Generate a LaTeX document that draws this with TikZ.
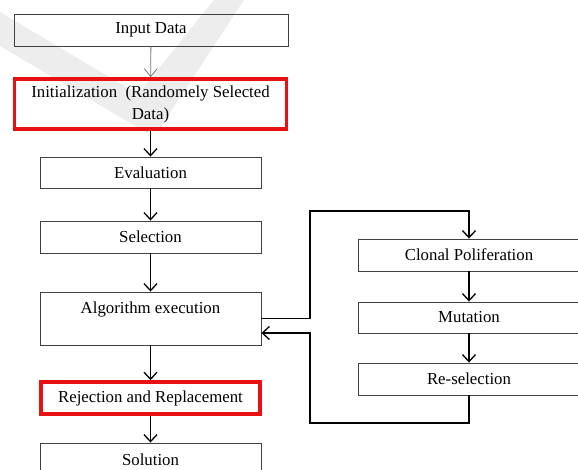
\documentclass[tikz,border=0pt]{standalone}
\usepackage{fontspec}
\setmainfont{Liberation Serif}
\usetikzlibrary{arrows.meta,positioning}
\tikzset{
  box/.style={draw=black!75, line width=0.9pt, rectangle, inner sep=0pt, align=center,
    font=\fontsize{16.8}{22}\selectfont},
  redbox/.style={box, draw={rgb,255:red,232;green,16;blue,16}, line width=3.6pt},
  arr/.style={draw=black, line width=1.3pt, -{Straight Barb[length=7pt,width=13pt,line width=1.3pt]}},
  thinarr/.style={draw=black!55, line width=0.8pt, -{Straight Barb[length=8pt,width=13pt,line width=0.8pt]}},
  loopline/.style={draw=black, line width=1.3pt},
}
\begin{document}
\begin{tikzpicture}[x=1pt,y=-1pt]
\useasboundingbox (0,0) rectangle (578,470);
\clip (0,0) rectangle (578,470);
% watermark
\fill[black!7] (0,12) -- (138,94) -- (214,0) -- (244,0) -- (160,128) -- (147,133) -- (0,46) -- cycle;
% left column
\node[box, minimum width=274pt, minimum height=32pt] (input) at (151,30) {Input Data};
\node[redbox, minimum width=272pt, minimum height=50pt] (init) at (150.5,104) {Initialization \ (Randomely Selected\\Data)};
\node[box, minimum width=221pt, minimum height=31pt] (eval) at (150.5,172.5) {Evaluation};
\node[box, minimum width=221pt, minimum height=32pt] (sel) at (150.5,237) {Selection};
\node[box, minimum width=221pt, minimum height=53pt,
      label={[font=\fontsize{16.8}{22}\selectfont, anchor=north, yshift=-7pt]north:Algorithm execution}] (alg) at (150.5,318.5) {};
\node[redbox, minimum width=219pt, minimum height=32pt] (rej) at (150.5,398) {Rejection and Replacement};
\node[box, minimum width=221pt, minimum height=34pt] (sol) at (150.5,460) {Solution};
% right column
\node[box, minimum width=222pt, minimum height=32pt] (clon) at (469,255) {Clonal Poliferation};
\node[box, minimum width=222pt, minimum height=31pt] (mut) at (469,317.5) {Mutation};
\node[box, minimum width=222pt, minimum height=32pt] (resel) at (469,379) {Re-selection};
% arrows
\draw[thinarr] (input) -- (init);
\draw[arr] (init) -- (eval);
\draw[arr] (eval) -- (sel);
\draw[arr] (sel) -- (alg);
\draw[arr] (alg) -- (rej);
\draw[arr] (rej) -- (sol);
\draw[arr] (clon) -- (mut);
\draw[arr] (mut) -- (resel);
% loop
\coordinate (lt) at (310,211);
\coordinate (lb) at (310,423);
\coordinate (algIn) at ([yshift=-14.5pt]alg.east);
\draw[loopline, -{Straight Barb[length=7pt,width=13pt,line width=1.3pt]}] (alg.east) -| (lt) -| (clon.north);
\draw[loopline, -{Straight Barb[length=7pt,width=13pt,line width=1.3pt]}] (resel.south) |- (lb) |- (algIn);
\end{tikzpicture}
\end{document}
